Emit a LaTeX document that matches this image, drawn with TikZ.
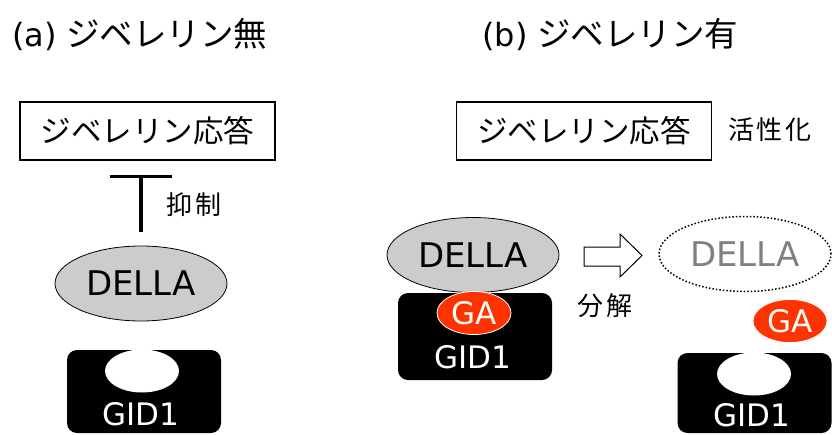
\documentclass[tikz,border=0pt]{standalone}
\usepackage{fontspec}
\setmainfont{DejaVu Sans}
\newfontfamily\jp{Noto Sans CJK JP}
\newfontfamily\jplab[LetterSpace=8]{Noto Sans CJK JP}
\usetikzlibrary{shapes.geometric,arrows.meta,calc}
\definecolor{dellagray}{HTML}{CCCCCC}
\definecolor{gared}{HTML}{FF3300}
\definecolor{ghostgray}{HTML}{808080}
\begin{document}
\begin{tikzpicture}[x=1pt,y=-1pt,
  jpbox/.style={draw, line width=1.3pt, minimum width=255pt, minimum height=58pt, inner sep=0pt, font=\jp\fontsize{30.5}{34}\selectfont},
  jplabel/.style={inner sep=0pt, font=\jplab\fontsize{26}{28}\selectfont},
  titletext/.style={inner sep=0pt, anchor=west, font=\fontsize{32}{38}\selectfont},
  dellanode/.style={ellipse, draw, line width=0.8pt, fill=dellagray, minimum width=172pt, minimum height=75pt, inner sep=0pt, font=\fontsize{34}{38}\selectfont},
  ghostnode/.style={ellipse, draw, dotted, line width=1.5pt, minimum width=172pt, minimum height=75pt, inner sep=0pt, text=ghostgray, font=\fontsize{34}{38}\selectfont},
  gidblock/.style={rectangle, rounded corners=10pt, fill=black, minimum width=154pt, inner sep=0pt},
  pocket/.style={ellipse, fill=white, minimum width=74pt, minimum height=43pt, inner sep=0pt},
  ganode/.style={ellipse, fill=gared, draw=white, line width=0.8pt, minimum width=74pt, minimum height=43pt, inner sep=0pt, text=white, font=\fontsize{31}{34}\selectfont},
  gidtext/.style={inner sep=0pt, text=white, font=\fontsize{31}{34}\selectfont},
  hollowarrow/.style={draw, line width=1pt, fill=white, line join=miter}
]
\useasboundingbox (0,0) rectangle (832,434);

% titles
\node[titletext] (titleA) at (12,35) {(a)\hspace{0.3em}{\jp\fontsize{33.5}{38}\selectfont ジベレリン無}};
\node[titletext] (titleB) at (482,35) {(b)\hspace{0.3em}{\jp\fontsize{33.5}{38}\selectfont ジベレリン有}};

% (a)
\node[jpbox] (respA) at (147.5,131) {ジベレリン応答};
\node[dellanode] (dellaA) at (141,283.5) {DELLA};
\coordinate (tbot) at ($(dellaA.north)+(0,-14)$);
\coordinate (ttop) at ($(respA.south -| dellaA.north)+(0,14)$);
\draw[line width=3.5pt, -{Bar[width=62pt]}] (tbot) -- (ttop);
\node[jplabel] (inhib) at (194,205) {抑制};
\node[gidblock, minimum height=83pt] (gidA) at (144,391.5) {};
\node[pocket] (pocketA) at (142,371) {};
\node[gidtext] (gidAtext) at (141,414) {GID1};

% (b)
\node[jpbox] (respB) at (584,131) {ジベレリン応答};
\node[jplabel] (act) at (770,130) {活性化};
\node[gidblock, minimum height=87pt] (gidB) at (475,336.5) {};
\node[dellanode] (dellaB) at (473,255) {DELLA};
\node[ganode] (gaB) at (474,313) {GA};
\node[gidtext] (gidBtext) at (473,357) {GID1};

\draw[hollowarrow] (584,247) -- (620,247) -- (620,234) -- (642,255.5) -- (620,277) -- (620,266) -- (584,266) -- cycle;
\node[jplabel] (degr) at (605,306) {分解};

\node[ghostnode] (ghost) at (745,254) {DELLA};
\node[ganode] (gaC) at (790,321) {GA};
\node[gidblock, minimum height=80pt] (gidC) at (754.5,393) {};
\node[pocket] (pocketC) at (754,374) {};
\node[gidtext] (gidCtext) at (752,415) {GID1};
\end{tikzpicture}
\end{document}
